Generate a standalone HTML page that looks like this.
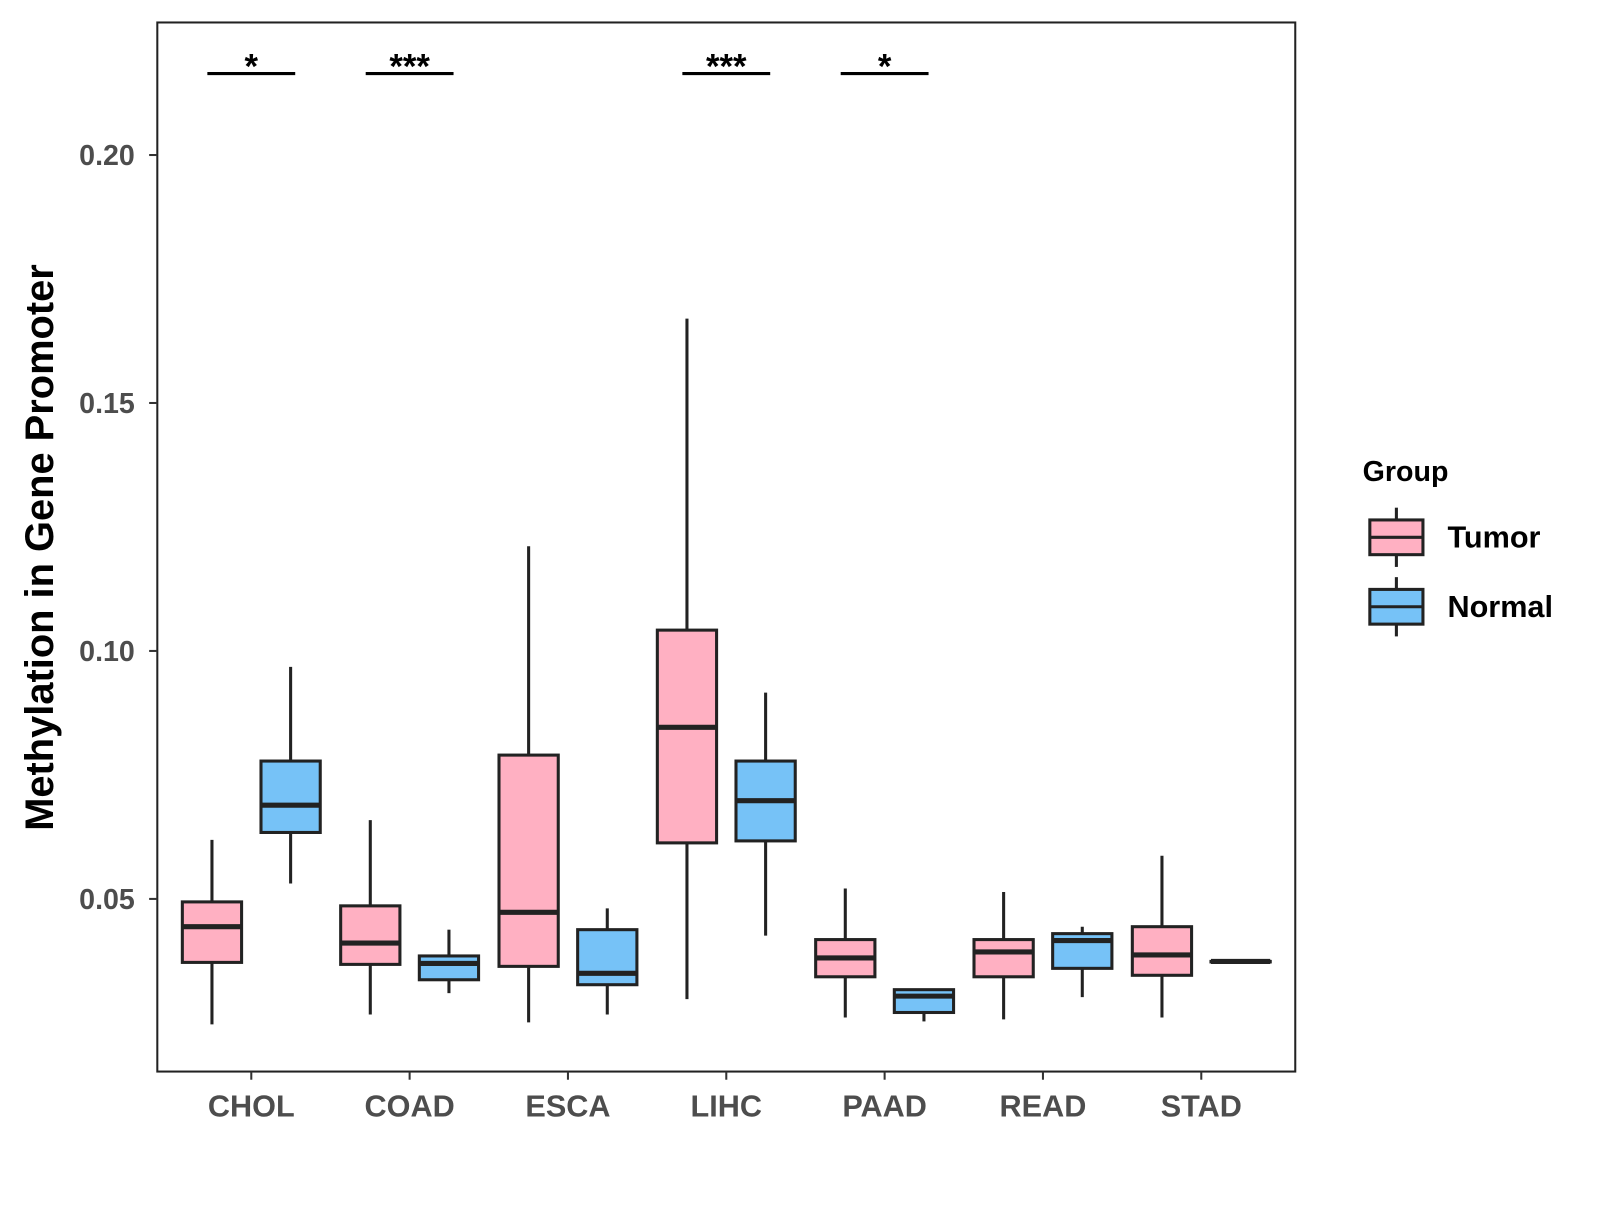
<!DOCTYPE html>
<html><head><meta charset="utf-8"><style>
html,body{margin:0;padding:0;background:#fff;}
svg text{font-family:"Liberation Sans",Arial,sans-serif;font-weight:bold;}
</style></head><body>
<svg id="chart" width="1600" height="1200" viewBox="0 0 1600 1200" xmlns="http://www.w3.org/2000/svg">
<rect x="0" y="0" width="1600" height="1200" fill="#fff"/>
<g id="plot" transform="scale(1.0215)"></g>
</svg>
<script>
const categories = ["CHOL","COAD","ESCA","LIHC","PAAD","READ","STAD"];
const groups = ["Tumor","Normal"];
// [low, q1, median, q3, high]
const tumorStats = [
  [0.0247,0.0372,0.0444,0.0494,0.0619],
  [0.0267,0.0368,0.0411,0.0486,0.0659],
  [0.0251,0.0364,0.0473,0.0790,0.1211],
  [0.0298,0.0613,0.0846,0.1042,0.1670],
  [0.0261,0.0343,0.0381,0.0418,0.0521],
  [0.0257,0.0343,0.0393,0.0418,0.0514],
  [0.0261,0.0346,0.0387,0.0444,0.0587]
];
const normalStats = [
  [0.0531,0.0634,0.0689,0.0778,0.0968],
  [0.0310,0.0337,0.0370,0.0385,0.0438],
  [0.0267,0.0327,0.0350,0.0438,0.0481],
  [0.0426,0.0617,0.0698,0.0778,0.0916],
  [0.0253,0.0271,0.0304,0.0317,0.0317],
  [0.0302,0.0360,0.0416,0.0430,0.0444],
  [0.0374,0.0374,0.0374,0.0374,0.0374]
];
const signifLabels = ["*","***","","***","*","",""];
const yTicks = [0.05,0.10,0.15,0.20];
const yTickLabels = ["0.05","0.10","0.15","0.20"];

const NS="http://www.w3.org/2000/svg";
const P={l:154,r:1268,t:22,b:1049};
function y(v){return 880-(v-0.05)*4855;}
function x(i){return 246+i*155;}
const g=document.getElementById('plot');
function mk(tag,attrs,parent){const e=document.createElementNS(NS,tag);for(const k in attrs)e.setAttribute(k,attrs[k]);(parent||g).appendChild(e);return e;}

const frame=mk('rect',{x:P.l,y:P.t,width:P.r-P.l,height:P.b-P.t,fill:'none',stroke:'#222','stroke-width':2});



yTicks.forEach((v,i)=>{
  const t=mk('line',{x1:P.l-8,x2:P.l,y1:y(v),y2:y(v),stroke:'#333','stroke-width':2});
  
  
  const l=mk('text',{x:P.l-22,y:y(v)+10,'text-anchor':'end','font-size':28,fill:'#4d4d4d'});
  l.textContent=yTickLabels[i];
  
  
});
categories.forEach((c,i)=>{
  const t=mk('line',{x1:x(i),x2:x(i),y1:P.b,y2:P.b+8,stroke:'#333','stroke-width':2});
  
  
  const l=mk('text',{x:x(i),y:1093,'text-anchor':'middle','font-size':30,fill:'#4d4d4d'});
  l.textContent=c;
  
  
});
const colors={Tumor:'#FFB0C2',Normal:'#76C2F7'};
function box(cx,s,col,name){
  const w=58;
  const wl=mk('line',{x1:cx,x2:cx,y1:y(s[0]),y2:y(s[4]),stroke:'#222','stroke-width':3});
  
  
  const r=mk('rect',{x:cx-w/2,y:y(s[3]),width:w,height:Math.max(y(s[1])-y(s[3]),0.5),fill:col,stroke:'#222','stroke-width':3});
  
  
  const m=mk('line',{x1:cx-w/2,x2:cx+w/2,y1:y(s[2]),y2:y(s[2]),stroke:'#222','stroke-width':5});
  
  
}
categories.forEach((c,i)=>{
  box(x(i)-38.5,tumorStats[i],colors.Tumor,c.toLowerCase()+'-tumor');
  box(x(i)+38.5,normalStats[i],colors.Normal,c.toLowerCase()+'-normal');
  if(signifLabels[i]){
    const ln=mk('line',{x1:x(i)-43,x2:x(i)+43,y1:72,y2:72,stroke:'#000','stroke-width':3});
    
    
    const st=mk('text',{x:x(i),y:77,'text-anchor':'middle','font-size':34,fill:'#000'});
    st.textContent=signifLabels[i];
    
    
  }
});
const yt=mk('text',{x:0,y:0,transform:'translate(52,536) rotate(-90)','text-anchor':'middle','font-size':39,fill:'#000'});
yt.textContent='Methylation in Gene Promoter';



const lg=mk('g',{});


const lt=mk('text',{x:1334,y:471,'font-size':28,fill:'#000'},lg);
lt.textContent='Group';


groups.forEach((gname,i)=>{
  const cy=526+i*68;
  const e=mk('g',{},lg);
  
  
  mk('line',{x1:1367,x2:1367,y1:cy-29,y2:cy+29,stroke:'#222','stroke-width':3},e);
  mk('rect',{x:1341,y:cy-17,width:52,height:34,fill:colors[gname],stroke:'#222','stroke-width':3},e);
  mk('line',{x1:1341,x2:1393,y1:cy,y2:cy,stroke:'#222','stroke-width':3},e);
  const tx=mk('text',{x:1417,y:cy+10,'font-size':30,fill:'#000'},e);
  tx.textContent=gname;
});
</script>
</body></html>
